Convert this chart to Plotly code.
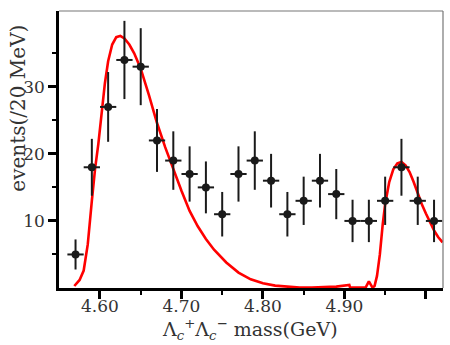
import plotly.graph_objects as go

# Data points
mass = [4.57, 4.59, 4.61, 4.63, 4.65, 4.67, 4.69, 4.71, 4.73, 4.75, 4.77, 4.79,
        4.81, 4.83, 4.85, 4.87, 4.89, 4.91, 4.93, 4.95, 4.97, 4.99, 5.01]
events = [5, 18, 27, 34, 33, 22, 19, 17, 15, 11, 17, 19,
          16, 11, 13, 16, 14, 10, 10, 13, 18, 13, 10]
err_y = [2.24, 4.24, 5.2, 5.83, 5.74, 4.69, 4.36, 4.12, 3.87, 3.32, 4.12, 4.36,
         4.0, 3.32, 3.6, 4.0, 3.74, 3.16, 3.16, 3.6, 4.24, 3.6, 3.16]
half_bin = [0.01] * len(mass)

# Fit curve
fit_x = [4.5685, 4.575, 4.580, 4.585, 4.590, 4.594, 4.598, 4.602, 4.606, 4.610,
         4.615, 4.620, 4.625, 4.630, 4.636, 4.642, 4.650, 4.660, 4.670, 4.680,
         4.690, 4.700, 4.710, 4.720, 4.730, 4.740, 4.755, 4.770, 4.785, 4.800,
         4.815, 4.830, 4.845, 4.860, 4.875, 4.890, 4.906, 4.907, 4.926, 4.930,
         4.9345, 4.937, 4.940, 4.9435, 4.947, 4.950, 4.955, 4.960, 4.965, 4.970,
         4.975, 4.980, 4.985, 4.990, 4.995, 5.000, 5.005, 5.010, 5.015, 5.0205]
fit_y = [0.3, 1.2, 2.6, 6.5, 13.0, 17.8, 21.5, 26.0, 30.5, 33.8,
         36.3, 37.4, 37.6, 37.2, 36.3, 35.0, 32.7, 28.8, 24.6, 21.0,
         17.6, 14.5, 11.5, 9.2, 7.3, 5.7, 3.8, 2.3, 1.3, 0.7,
         0.35, 0.15, 0.05, 0.05, 0.1, 0.2, 0.45, 0.05, 0.05, 1.0,
         0.05, 0.3, 1.8, 5.0, 9.5, 12.5, 15.8, 17.7, 18.6, 18.8,
         18.3, 17.3, 15.8, 14.1, 12.5, 11.1, 9.8, 8.6, 7.6, 6.8]

x_ticks = [4.60, 4.70, 4.80, 4.90, 5.00]
x_ticktext = ["4.60", "4.70", "4.80", "4.90", ""]
x_minor = [4.65, 4.75, 4.85, 4.95]
y_ticks = [10, 20, 30]
y_minor = [5, 15, 25, 35]

FONT = "DejaVu Serif"
TXT = "#333333"

fig = go.Figure()
fig.add_trace(go.Scatter(
    x=fit_x, y=fit_y, mode="lines",
    line=dict(color="#ff0000", width=2.6),
    hoverinfo="skip", showlegend=False, cliponaxis=True))
fig.add_trace(go.Scatter(
    x=mass, y=events, mode="markers",
    marker=dict(color="#1a1a1a", size=8),
    error_y=dict(type="data", array=err_y, color="#1a1a1a", thickness=2, width=0),
    error_x=dict(type="data", array=half_bin, color="#1a1a1a", thickness=2, width=0),
    hoverinfo="skip", showlegend=False, cliponaxis=True))

fig.update_layout(
    width=450, height=345,
    margin=dict(l=59, r=7, t=11, b=57),
    paper_bgcolor="white", plot_bgcolor="white",
    hovermode=False,
    font=dict(family=FONT, color=TXT, size=17),
    xaxis=dict(
        range=[4.5497, 5.021], showgrid=False, zeroline=False,
        showline=True, linecolor="black", linewidth=2.5,
        tickmode="array", tickvals=x_ticks, ticktext=x_ticktext,
        ticks="outside", ticklen=8, tickwidth=2.5, tickcolor="black",
        ticklabelstandoff=-7,
        tickfont=dict(family=FONT, size=17, color=TXT),
        minor=dict(tickmode="array", tickvals=x_minor, ticks="outside",
                   ticklen=4, tickwidth=2, tickcolor="black", showgrid=False),
    ),
    yaxis=dict(
        range=[0, 41.3], showgrid=False, zeroline=False,
        showline=True, linecolor="black", linewidth=2.5,
        tickmode="array", tickvals=y_ticks,
        ticks="outside", ticklen=8, tickwidth=2.5, tickcolor="black",
        tickfont=dict(family=FONT, size=17, color=TXT),
        minor=dict(tickmode="array", tickvals=y_minor, ticks="outside",
                   ticklen=4, tickwidth=2, tickcolor="black", showgrid=False),
    ),
    shapes=[
        dict(type="line", xref="paper", yref="paper", x0=0, x1=1, y0=1, y1=1,
             line=dict(color="#777777", width=1.2)),
        dict(type="line", xref="paper", yref="paper", x0=1, x1=1, y0=0, y1=1,
             line=dict(color="#777777", width=1.2)),
    ],
    annotations=[
        dict(text="events(/20 MeV)", xref="paper", yref="paper",
             x=-0.109, y=0.648, textangle=-90, showarrow=False,
             xanchor="center", yanchor="middle",
             font=dict(family=FONT, size=20, color=TXT)),
        dict(text="Λ<sub><i>c</i></sub><sup>+</sup>Λ<sub><i>c</i></sub><sup>−</sup> mass(GeV)",
             xref="paper", yref="paper", x=0.497, y=-0.15, showarrow=False,
             xanchor="center", yanchor="middle",
             font=dict(family=FONT, size=19, color=TXT)),
    ],
)

fig.write_html("out.html", config={"displayModeBar": False},
               post_script="document.body.style.margin='0';document.body.style.padding='0';")
